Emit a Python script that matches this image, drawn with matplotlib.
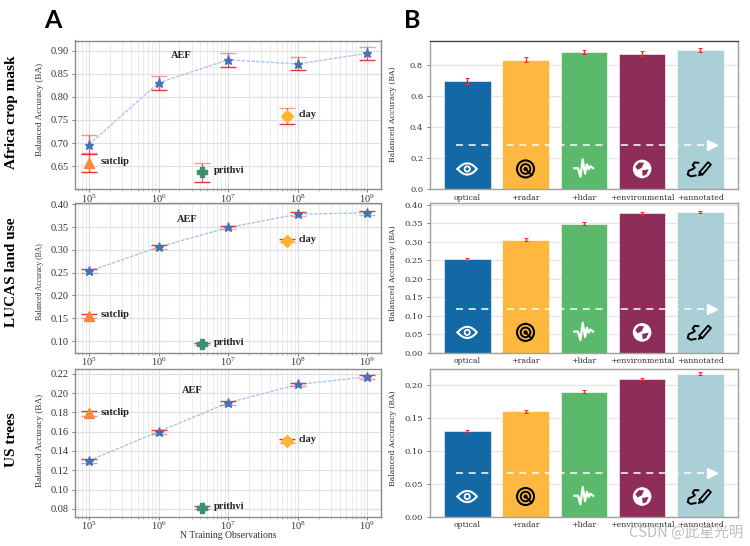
from matplotlib import pyplot as plt
from matplotlib.patches import Circle, Polygon
from matplotlib.ticker import LogLocator, NullFormatter
import numpy as np

plt.rcParams['font.family'] = ['Liberation Serif', 'DejaVu Serif']
plt.rcParams['mathtext.fontset'] = 'stix'
plt.rcParams['mathtext.default'] = 'rm'

FIG_W = 750
FIG_H = 546

# values
datasets = ["Africa crop mask", "LUCAS land use", "US trees"]
n_obs = [1e5, 1e6, 1e7, 1e8, 1e9]
aef_africa = [0.697, 0.830, 0.880, 0.871, 0.894]
aef_africa_err = [0.020, 0.016, 0.015, 0.014, 0.014]
aef_lucas = [0.253, 0.306, 0.349, 0.378, 0.381]
aef_lucas_err = [0.004, 0.004, 0.004, 0.004, 0.004]
aef_trees = [0.130, 0.160, 0.190, 0.209, 0.217]
aef_trees_err = [0.002, 0.002, 0.002, 0.002, 0.002]

baseline_names = ["satclip", "prithvi", "clay"]
baseline_x = [1e5, 4.2e6, 7e7]
baseline_africa = [0.658, 0.637, 0.758]
baseline_africa_err = [0.020, 0.021, 0.017]
baseline_lucas = [0.155, 0.093, 0.320]
baseline_lucas_err = [0.004, 0.002, 0.003]
baseline_trees = [0.179, 0.081, 0.150]
baseline_trees_err = [0.0022, 0.0015, 0.002]

aef_label_x = [2.1e6, 2.6e6, 3.1e6]
aef_label_y = [0.890, 0.3666, 0.203]

bar_labels = ["optical", "+radar", "+lidar", "+environmental", "+annotated"]
bar_colors = ["#1269a6", "#ffb83f", "#5bb96c", "#8e2c5a", "#aacfd6"]

left_ylims = [(0.601, 0.9216), (0.075, 0.4015), (0.072, 0.2256)]
left_yticks = [np.arange(0.65, 0.91, 0.05), np.arange(0.10, 0.41, 0.05), np.arange(0.08, 0.23, 0.02)]
left_fmt = "%.2f"
right_ylims = [(0, 0.955), (0, 0.404), (0, 0.225)]
right_yticks = [np.arange(0, 0.81, 0.2), np.arange(0, 0.41, 0.05), np.arange(0, 0.21, 0.05)]
right_fmt = ["%.1f", "%.2f", "%.2f"]

# pixel boxes: top, bottom
row_px = [(40.5, 189), (203.5, 352.5), (368.5, 516.5)]
row_title_y = [112, 272, 440]
# the y labels differ in size and centre from row to row in the source
left_ylabel_size = [6.7, 5.5, 6.7]
left_ylabel_y = [109, 282, 440]
right_ylabel_y = [114, 273, 438]
# alpha of upper and lower caps, the thin caps come out pink or red in the source
cap_alpha = [(0.45, 0.95), (0.95, 0.4), (0.95, 0.5)]

aef_values = [aef_africa, aef_lucas, aef_trees]
aef_errs = [aef_africa_err, aef_lucas_err, aef_trees_err]
base_values = [baseline_africa, baseline_lucas, baseline_trees]
base_errs = [baseline_africa_err, baseline_lucas_err, baseline_trees_err]

base_style = {
    "satclip": ("^", "#f58a3c", 7),
    "prithvi": ("P", "#3c9070", 6.8),
    "clay": ("D", "#fdb52e", 5.8),
}


def px_axes(fig, left, right, top, bottom):
    return fig.add_axes([left / FIG_W, 1 - bottom / FIG_H, (right - left) / FIG_W, (bottom - top) / FIG_H])


def style_spines(ax, color="#8a8a8a", lw=1.0):
    for s in ax.spines.values():
        s.set_color(color)
        s.set_linewidth(lw)


def red_errorbar(ax, x, y, err, alphas, capsize, lw=0.9):
    _, caps, bars = ax.errorbar(x, y, yerr=err, fmt="none", ecolor="#ee2a2a", elinewidth=lw,
                                capsize=capsize, capthick=1.0, zorder=3)
    # caplines come lower first, then upper
    caps[0].set_alpha(alphas[1])
    caps[1].set_alpha(alphas[0])
    bars[0].set_alpha(0.75)


def icon_eye(ia):
    t = np.linspace(-0.62, 0.62, 60)
    h = 0.36 * (1 - (t / 0.62) ** 2)
    ia.plot(np.r_[t, t[::-1], t[0]], np.r_[h, -h[::-1], h[0]], color="white", lw=1.5)
    ia.add_patch(Circle((0, 0), 0.17, fill=False, ec="white", lw=1.3))


def icon_radar(ia):
    ia.add_patch(Circle((0, 0), 0.55, fill=False, ec="black", lw=1.5))
    ia.add_patch(Circle((0, 0), 0.31, fill=False, ec="black", lw=1.4))
    ia.add_patch(Circle((0, 0), 0.09, fc="black", ec="black"))
    ia.plot([0, 0.4], [0, -0.4], color="black", lw=1.3)


def icon_wave(ia):
    xs = [-0.62, -0.38, -0.22, -0.07, 0.08, 0.2, 0.32, 0.42, 0.6]
    ys = [0.05, 0.05, -0.5, 0.62, -0.3, 0.3, -0.02, 0.18, 0.05]
    ia.plot(xs, ys, color="white", lw=1.6, solid_joinstyle="round")


def icon_globe(ia, bg):
    ia.add_patch(Circle((0, 0), 0.6, fc="white", ec="none"))
    ia.add_patch(Polygon([[-0.44, 0.16], [-0.2, 0.42], [0.12, 0.4], [-0.02, 0.08], [-0.3, -0.06]], fc=bg, ec="none"))
    ia.add_patch(Polygon([[0.0, -0.1], [0.42, -0.02], [0.28, -0.36], [0.04, -0.46]], fc=bg, ec="none"))


def icon_pen(ia):
    ia.plot([-0.05, 0.5, 0.68, 0.12, -0.05], [-0.2, 0.44, 0.28, -0.38, -0.2], color="black", lw=1.3)
    ia.add_patch(Polygon([[-0.05, -0.2], [0.12, -0.38], [-0.14, -0.46]], fc="black", ec="black", lw=0.5))
    sx = [-0.12, -0.38, -0.5, -0.36, -0.52, -0.76, -0.82, -0.62, -0.3]
    sy = [0.4, 0.42, 0.25, 0.08, -0.02, -0.12, -0.36, -0.48, -0.42]
    ia.plot(sx, sy, color="black", lw=1.4, solid_capstyle="round")


def draw_icon(ax, i):
    ia = ax.inset_axes([i - 0.3, 0.03, 0.6, 0.21], transform=ax.get_xaxis_transform(), zorder=5)
    ia.set_xlim(-1.13, 1.13)
    ia.set_ylim(-1, 1)
    ia.set_aspect("equal")
    ia.axis("off")
    if i == 0:
        icon_eye(ia)
    elif i == 1:
        icon_radar(ia)
    elif i == 2:
        icon_wave(ia)
    elif i == 3:
        icon_globe(ia, bar_colors[3])
    else:
        icon_pen(ia)


fig = plt.figure(figsize=(FIG_W / 100, FIG_H / 100), dpi=100)

for r in range(3):
    top, bottom = row_px[r]

    # left panels, scaling with training data
    ax = px_axes(fig, 75, 380.5, top, bottom)
    ax.set_xscale("log")
    ax.set_xlim(10 ** 4.8, 10 ** 9.19)
    ax.set_ylim(*left_ylims[r])
    ax.set_yticks(left_yticks[r])
    ax.set_yticklabels([left_fmt % v for v in left_yticks[r]], fontsize=7.5, color="#333333")
    ax.set_xticks(n_obs)
    ax.xaxis.set_minor_locator(LogLocator(base=10, subs=np.arange(2, 10) * 0.1, numticks=12))
    ax.xaxis.set_minor_formatter(NullFormatter())
    ax.tick_params(axis="x", which="major", labelsize=7.5, length=2, width=0.6, color="#666666", labelcolor="#333333", pad=0.3)
    ax.tick_params(axis="x", which="minor", length=1.5, width=0.4, color="#888888")
    ax.tick_params(axis="y", length=2.5, width=0.6, color="#666666", pad=2)
    ax.grid(True, which="major", color="#e0e0e0", lw=0.9)
    ax.grid(True, which="minor", axis="x", color="#ebebeb", lw=0.7)
    ax.set_axisbelow(True)
    style_spines(ax)
    ax.set_ylabel("Balanced Accuracy (BA)", fontsize=left_ylabel_size[r], color="#333333")
    ax.yaxis.set_label_coords(-0.1015, (bottom - left_ylabel_y[r]) / (bottom - top))

    ax.plot(n_obs, aef_values[r], color="#a9c6ec", lw=1.0, ls="--", dashes=(2.5, 1), zorder=2)
    red_errorbar(ax, n_obs, aef_values[r], aef_errs[r], cap_alpha[r], 5.8)
    ax.plot(n_obs, aef_values[r], ls="none", marker="*", ms=6.5, color="#4472b8", mec="#4472b8", zorder=4)
    ax.text(aef_label_x[r], aef_label_y[r], "AEF", weight="bold",
            fontsize=7.5, color="#222222", ha="center", va="center")

    for k, name in enumerate(baseline_names):
        marker, color, size = base_style[name]
        red_errorbar(ax, [baseline_x[k]], [base_values[r][k]], [base_errs[r][k]], cap_alpha[r], 5.8)
        ax.plot([baseline_x[k]], [base_values[r][k]], ls="none", marker=marker, ms=size, color=color,
                mec=color, zorder=4)
        ax.annotate(name, (baseline_x[k], base_values[r][k]), xytext=(8.5, 1), textcoords="offset points",
                    weight="bold", fontsize=7.5, color="#222222", va="center")

    if r == 2:
        ax.set_xlabel("N Training Observations", fontsize=7, color="#333333")
        ax.xaxis.set_label_coords(0.5, -0.1)

    fig.text(12 / FIG_W, 1 - row_title_y[r] / FIG_H, datasets[r], rotation=90,
             weight="bold", fontsize=11, ha="center", va="center", color="black")

    # right panels, modalities
    bx = px_axes(fig, 429.5, 737.5, top, bottom)
    x = np.arange(len(bar_labels))
    bx.bar(x, aef_values[r], width=0.8, color=bar_colors, edgecolor="#ffffff", linewidth=0.4, zorder=2)
    bx.errorbar(x, aef_values[r], yerr=aef_errs[r], fmt="none", ecolor="#ee2a2a", elinewidth=1.0,
                capsize=1.6, capthick=0.7, zorder=3)
    bx.set_xlim(-0.647, 4.636)
    bx.set_ylim(*right_ylims[r])
    bx.set_xticks(x)
    bx.set_xticklabels(bar_labels, family="DejaVu Serif", fontsize=5.6, color="#333333")
    bx.set_yticks(right_yticks[r])
    bx.set_yticklabels([right_fmt[r] % v for v in right_yticks[r]], family="DejaVu Serif", fontsize=6, color="#333333")
    bx.tick_params(axis="x", length=0, pad=3.5)
    bx.tick_params(axis="y", length=2.5, width=0.6, color="#666666", pad=2)
    bx.grid(True, axis="y", color="#e6e6e6", lw=1.0)
    bx.set_axisbelow(True)
    style_spines(bx, "#a0a0a0", 1.0)
    if r == 0:
        bx.spines["top"].set_color("#444444")
    bx.set_ylabel("Balanced Accuracy (BA)", family="DejaVu Serif", fontsize=5.6, color="#333333")
    bx.yaxis.set_label_coords(-0.104, (bottom - right_ylabel_y[r]) / (bottom - top))

    # dashed modality arrow and icons sit at a fixed height of the panel
    trans = bx.get_xaxis_transform()
    bx.plot([-0.2, 4.15], [0.293, 0.293], transform=trans, color="white", lw=1.1, dashes=(4.6, 3.7), zorder=4)
    bx.plot([4.2], [0.293], transform=trans, marker=">", ms=7, color="white", mec="white", ls="none", zorder=4)
    for i in range(len(bar_labels)):
        draw_icon(bx, i)

fig.text(53 / FIG_W, 1 - 20 / FIG_H, "A", family="Lato", weight="bold", fontsize=18, ha="center", va="center", color="black")
fig.text(412 / FIG_W, 1 - 20 / FIG_H, "B", family="Lato", weight="bold", fontsize=18, ha="center", va="center", color="black")
fig.text(743 / FIG_W, 1 - 533 / FIG_H, "CSDN @此星光明", family=["Noto Sans CJK SC", "DejaVu Sans"], fontsize=10.5,
         ha="right", va="center", color="#bdbdbd", zorder=10)

fig.savefig("out.png", dpi=100)
